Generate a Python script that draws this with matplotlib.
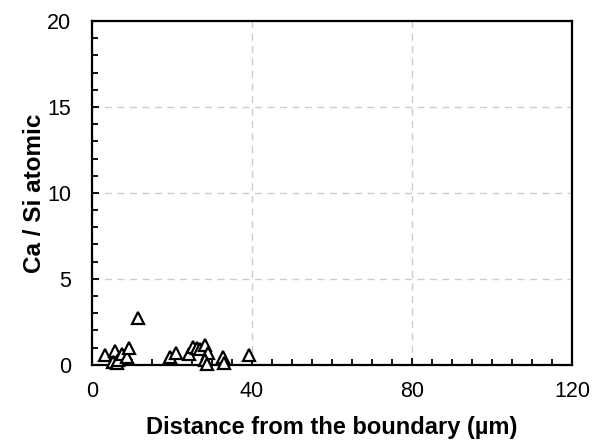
import matplotlib
matplotlib.use("Agg")
import matplotlib.pyplot as plt
from matplotlib.ticker import MultipleLocator

plt.rcParams['font.family'] = ['Liberation Sans', 'DejaVu Sans']

distance = [3.2, 5.7, 5.3, 6.3, 6.6, 7.5, 8.7, 9.3, 11.6, 19.5, 21.0, 24.3, 25.3,
            26.2, 27.0, 28.3, 29.0, 28.3, 28.7, 32.8, 33.0, 39.3]
ca_si = [0.58, 0.8, 0.17, 0.1, 0.3, 0.6, 0.47, 0.95, 2.7, 0.47, 0.66, 0.6, 1.05,
         0.95, 0.9, 1.15, 0.66, 0.3, 0.05, 0.47, 0.08, 0.56]

fig = plt.figure(figsize=(6.02, 4.47), dpi=100)
ax = fig.add_axes([0.153, 0.184, 0.797, 0.769])

ax.plot(distance, ca_si, linestyle='none', marker='^', markersize=8.5,
        markerfacecolor='white', markeredgecolor='black', markeredgewidth=1.6,
        clip_on=False, zorder=3)

ax.set_xlim(0, 120)
ax.set_ylim(0, 20)
ax.xaxis.set_major_locator(MultipleLocator(40))
ax.xaxis.set_minor_locator(MultipleLocator(5))
ax.yaxis.set_major_locator(MultipleLocator(5))
ax.yaxis.set_minor_locator(MultipleLocator(1))
ax.tick_params(which='both', direction='in', width=1.3, labelsize=15.5)
ax.tick_params(axis='x', pad=12)
ax.tick_params(axis='y', pad=15)
ax.tick_params(which='major', length=5)
ax.tick_params(which='minor', length=4)
ax.tick_params(top=False, right=False)

ax.grid(True, which='major', color='#cccccc', linestyle=(0, (5, 4)), linewidth=1.0)
ax.set_axisbelow(True)
for s in ax.spines.values():
    s.set_linewidth(1.6)

ax.set_xlabel('Distance from the boundary (µm)', fontsize=17, fontweight='bold', labelpad=10)
ax.set_ylabel('Ca / Si atomic', fontsize=17.5, fontweight='bold', labelpad=1)

fig.savefig('out.png', dpi=100)
